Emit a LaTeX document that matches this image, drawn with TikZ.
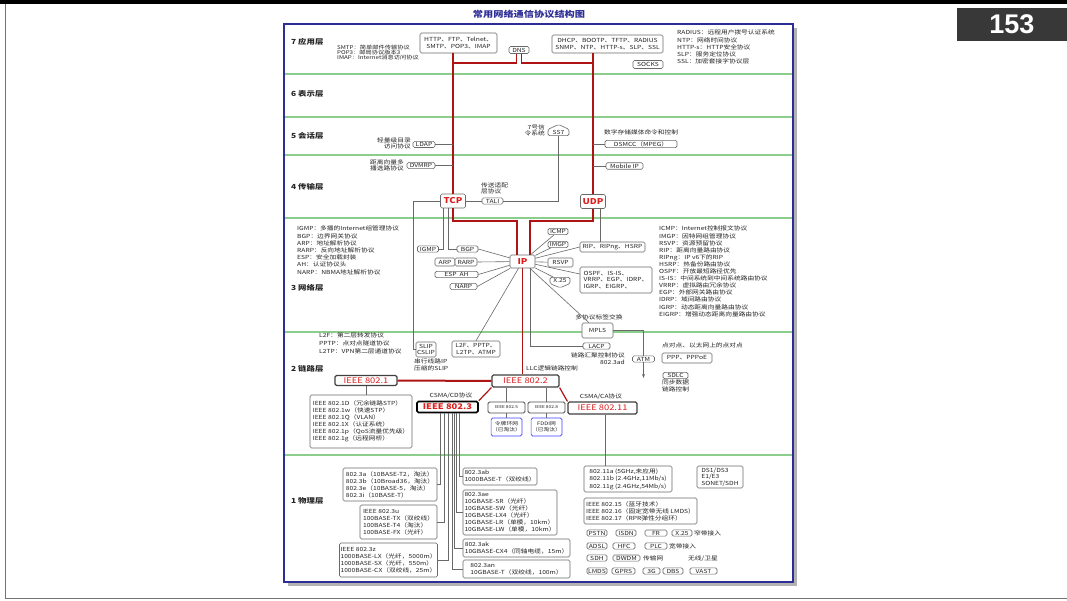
\documentclass[tikz,border=0pt]{standalone}
\usepackage{fontspec}
\setmainfont{Noto Sans CJK SC}[FakeStretch=1.2]
\newfontfamily\numfont{Liberation Sans}
\usepackage{xcolor}
\usepackage{tikz}
\usetikzlibrary{arrows.meta,shapes.symbols}

\definecolor{frameblue}{RGB}{45,45,150}
\definecolor{sepgreen}{RGB}{140,205,140}
\definecolor{linered}{RGB}{175,20,20}
\definecolor{textred}{RGB}{220,30,30}
\definecolor{boxgray}{RGB}{105,105,105}
\definecolor{txtgray}{RGB}{35,35,35}

\newcommand\sm{\fontsize{5.6}{6.6}\selectfont}

\begin{document}
\begin{tikzpicture}[x=1pt,y=-1pt,
  font=\sm,text=txtgray,
  b/.style={draw=boxgray,rounded corners=1.5pt,fill=white,inner sep=1pt,
            line width=0.6pt,align=center},
  bt/.style={b,align=left,font=\fontsize{5.6}{7}\selectfont},
  tx/.style={inner sep=0pt,align=left},
  k/.style={b,font=\fontsize{8}{8}\selectfont\bfseries,text=textred},
  ie/.style={b,draw=black!75,line width=1.1pt,inner sep=0.5pt,font=\fontsize{7.8}{8}\selectfont,text=textred},
  bl/.style={b,draw=blue!75,line width=0.7pt,font=\fontsize{4.8}{5.8}\selectfont},
  l/.style={draw=boxgray,line width=0.6pt},
  rl/.style={draw=linered,line width=1.8pt},
  lay/.style={anchor=west,inner sep=0pt,font=\fontsize{7}{7}\selectfont\bfseries,text=black!85}]

\useasboundingbox (0,0) rectangle (1067,601);

% page
\fill[black] (0,0) rectangle (1067,4.5);
\draw[black!55,line width=0.8pt] (5,4.5) -- (5,598.5) -- (1067,598.5);
\node[fill=black!78,text=white,minimum width=110pt,minimum height=33pt,inner sep=0pt,
      anchor=north east,font=\numfont\fontsize{27}{27}\selectfont\bfseries] (page) at (1067,8) {153};

% frame and layers
\fill[black!30] (288,28) rectangle (797,586);
\draw[frameblue,line width=2pt,fill=white] (284,24) rectangle (793,582);
\node[font=\fontsize{8.5}{9}\selectfont\bfseries,text=frameblue] (title) at (529,14) {常用网络通信协议结构图};
\foreach \y in {74,117,155,218,332,455}
  \draw[sepgreen,line width=1.2pt] (285,\y) -- (792,\y);
\node[lay] (lay7) at (291,42) {7 应用层};
\node[lay] (lay6) at (291,94) {6 表示层};
\node[lay] (lay5) at (291,136) {5 会话层};
\node[lay] (lay4) at (291,187) {4 传输层};
\node[lay] (lay3) at (291,288) {3 网络层};
\node[lay] (lay2) at (291,369) {2 链路层};
\node[lay] (lay1) at (291,501) {1 物理层};

% application layer
\node[tx,anchor=west,font=\fontsize{5.2}{5.4}\selectfont] (apptxt) at (337,52.5) {SMTP：简单邮件传输协议\\POP3：邮局协议版本3\\IMAP：Internet消息访问协议};
\node[b,minimum width=77pt,minimum height=20pt] (http) at (458.5,43) {HTTP、FTP、Telnet、\\SMTP、POP3、IMAP};
\node[b,minimum width=20pt,minimum height=7pt] (dns) at (519,50) {DNS};
\node[b,minimum width=111pt,minimum height=18pt] (dhcp) at (607.5,44) {DHCP、BOOTP、TFTP、RADIUS\\SNMP、NTP、HTTP-s、SLP、SSL};
\node[b,minimum width=30pt,minimum height=8pt] (socks) at (648,64.5) {SOCKS};
\node[tx,anchor=north west,font=\fontsize{5.6}{7.2}\selectfont] (apptxt2) at (677,30) {RADIUS：远程用户拨号认证系统\\NTP：网络时间协议\\HTTP-s：HTTP安全协议\\SLP：服务定位协议\\SSL：加密套接字协议层};
\coordinate (jl) at (453,63);
\coordinate (jr) at (593,63);

% session layer
\node[tx,anchor=east,align=right] (ldaptxt) at (411,143.5) {轻量级目录\\访问协议};
\node[b,minimum width=22pt] (ldap) at (424,144.5) {LDAP};
\node[b,signal,signal to=north,signal from=nowhere,signal pointer angle=130,minimum width=21pt] (ss7) at (558.5,132.5) {SS7};
\node[tx,anchor=east,align=right] (ss7txt) at (545,130.5) {7号信\\令系统};
\node[tx,anchor=west] (dsmcctxt) at (604,132) {数字存储媒体命令和控制};
\node[b,minimum width=72pt] (dsmcc) at (641,144) {DSMCC（MPEG）};

% transport layer
\node[tx,anchor=east,align=right] (dvmrptxt) at (404,165.5) {距离向量多\\播选路协议};
\node[b,minimum width=28pt] (dvmrp) at (421,165.5) {DVMRP};
\node[b,minimum width=37pt] (mip) at (624.5,166) {Mobile IP};
\node[k,minimum width=25pt,minimum height=14pt] (tcp) at (453,201) {TCP};
\node[k,minimum width=25pt,minimum height=14pt] (udp) at (593,201.5) {UDP};
\node[tx,anchor=west] (talitxt) at (481,188.5) {传送适配\\层协议};
\node[b,minimum width=21pt] (tali) at (492.5,201) {TALI};

% network layer
\node[tx,anchor=north west,font=\fontsize{5.6}{7.2}\selectfont] (nettxt) at (297,226) {IGMP：多播的Internet组管理协议\\BGP：边界网关协议\\ARP：地址解析协议\\RARP：反向地址解析协议\\ESP：安全加载封装\\AH：认证协议头\\NARP：NBMA地址解析协议};
\node[tx,anchor=north west,font=\fontsize{5.6}{7.1}\selectfont] (nettxt2) at (659,226) {ICMP：Internet控制报文协议\\IMGP：因特网组管理协议\\RSVP：资源预留协议\\RIP：距离向量路由协议\\RIPng：IP v6下的RIP\\HSRP：热备份路由协议\\OSPF：开放最短路径优先\\IS-IS：中间系统到中间系统路由协议\\VRRP：虚拟路由冗余协议\\EGP：外部网关路由协议\\IDRP：域间路由协议\\IGRP：动态距离向量路由协议\\EIGRP：增强动态距离向量路由协议};
\node[k,minimum width=25pt,minimum height=13pt] (ip) at (522.5,261.5) {IP};
\node[b,minimum width=21pt] (igmp) at (428,249) {IGMP};
\node[b,minimum width=21pt] (bgp) at (467.5,249) {BGP};
\node[b,minimum width=20pt,minimum height=8pt] (arp) at (445,262) {ARP};
\node[b,minimum width=22pt,minimum height=8pt] (rarp) at (466,262) {RARP};
\node[b,minimum width=43pt] (esp) at (456.5,274.5) {ESP\ \ AH};
\node[b,minimum width=27pt] (narp) at (463.5,286.5) {NARP};
\node[b,minimum width=20pt] (icmp) at (558,231.5) {ICMP};
\node[b,minimum width=20pt] (imgp) at (558,244.5) {IMGP};
\node[b,minimum width=65pt,minimum height=10pt] (rip) at (612.5,247) {RIP、RIPng、HSRP};
\node[b,minimum width=25pt,minimum height=9pt] (rsvp) at (560.5,262.5) {RSVP};
\node[b,align=left,minimum width=72pt,minimum height=26pt] (ospf) at (616,280) {OSPF、IS-IS、\\VRRP、EGP、IDRP、\\IGRP、EIGRP、};
\node[b,signal,signal to=south,signal from=nowhere,signal pointer angle=135,minimum width=20pt] (x25) at (560,280.5) {X.25};
\node[tx] (mplstxt) at (599,317) {多协议标签交换};
\node[b,minimum width=31pt,minimum height=15pt] (mpls) at (597.5,330.5) {MPLS};

% data link layer
\node[tx,anchor=north west,font=\fontsize{5.6}{7.7}\selectfont] (l2txt) at (319,333) {L2F：第二层转发协议\\PPTP：点对点隧道协议\\L2TP：VPN第二层通道协议};
\node[b,minimum width=18pt,minimum height=15pt] (slip) at (426,349.5) {SLIP\\CSLIP};
\node[tx,anchor=north west] (sliptxt) at (414,358.5) {串行线路IP\\压缩的SLIP};
\node[b,minimum width=48pt,minimum height=16pt] (l2f) at (476,349) {L2F、PPTP、\\L2TP、ATMP};
\node[b,minimum width=27pt] (lacp) at (596.5,346) {LACP};
\node[tx,anchor=north east,align=right] (lacptxt) at (625,352.5) {链路汇聚控制协议\\802.3ad};
\node[b,minimum width=22pt] (atm) at (643.5,359) {ATM};
\coordinate (atmend) at (643.5,378);
\node[tx,anchor=west] (ppptxt) at (662,345) {点对点、以太网上的点对点};
\node[b,minimum width=50pt,minimum height=10pt] (ppp) at (687,358) {PPP、PPPoE};
\node[b,minimum width=25pt] (sdlc) at (675.5,375.5) {SDLC};
\node[tx,anchor=north west] (sdlctxt) at (662,380) {同步数据\\链路控制};
\node[ie,minimum width=62pt,minimum height=10pt] (e1) at (366,380.5) {IEEE 802.1};
\node[tx,anchor=west] (llctxt) at (526,368.5) {LLC逻辑链路控制};
\node[ie,minimum width=67pt,minimum height=12pt] (e2) at (525.5,381) {IEEE 802.2};
\node[bt,minimum width=102pt,minimum height=53pt] (d1) at (361,421.5) {IEEE 802.1D（冗余链路STP）\\IEEE 802.1w（快速STP）\\IEEE 802.1Q（VLAN）\\IEEE 802.1X（认证系统）\\IEEE 802.1p（QoS流量优先级）\\IEEE 802.1g（远程网桥）};
\node[tx] (cdtxt) at (451,396) {CSMA/CD协议};
\node[ie,draw=black,line width=1.6pt,font=\fontsize{7.8}{8}\selectfont\bfseries,minimum width=61pt,minimum height=11pt] (e3) at (447.5,407) {IEEE 802.3};
\node[b,draw=black!70,line width=0.9pt,font=\fontsize{4}{4}\selectfont,minimum width=37pt,minimum height=11pt] (e5) at (506.5,407.5) {IEEE 802.5};
\node[b,draw=black!70,line width=0.9pt,font=\fontsize{4}{4}\selectfont,minimum width=37pt,minimum height=11pt] (e8) at (546.5,407.5) {IEEE 802.8};
\node[tx] (catxt) at (601,397) {CSMA/CA协议};
\node[ie,minimum width=69pt,minimum height=12pt] (e11) at (602.5,408) {IEEE 802.11};
\node[bl,minimum width=30pt,minimum height=18pt] (tring) at (506.5,427) {令牌环网\\（已淘汰）};
\node[bl,minimum width=30pt,minimum height=18pt] (fddi) at (546.5,427) {FDDI网\\（已淘汰）};

% physical layer
\node[bt,minimum width=94pt,minimum height=33pt] (p3a) at (390,484.5) {802.3a（10BASE-T2，淘汰）\\802.3b（10Broad36，淘汰）\\802.3e（10BASE-5，淘汰）\\802.3i（10BASE-T）};
\node[bt,minimum width=77pt,minimum height=34pt] (p3u) at (398.5,522) {IEEE 802.3u\\100BASE-TX（双绞线）\\100BASE-T4（淘汰）\\100BASE-FX（光纤）};
\node[bt,minimum width=97pt,minimum height=34pt] (p3z) at (388.5,560) {IEEE 802.3z\\1000BASE-LX（光纤，5000m）\\1000BASE-SX（光纤，550m）\\1000BASE-CX（双绞线，25m）};
\node[bt,minimum width=74pt,minimum height=17pt] (p3ab) at (500,476.5) {802.3ab\\1000BASE-T（双绞线）};
\node[bt,minimum width=94pt,minimum height=45pt] (p3ae) at (510,512.5) {802.3ae\\10GBASE-SR（光纤）\\10GBASE-SW（光纤）\\10GBASE-LX4（光纤）\\10GBASE-LR（单模，10km）\\10GBASE-LW（单模，10km）};
\node[bt,minimum width=107pt,minimum height=18pt] (p3ak) at (516.5,548) {802.3ak\\10GBASE-CX4（同轴电缆，15m）};
\node[bt,minimum width=107pt,minimum height=18pt] (p3an) at (516.5,569) {802.3an\\10GBASE-T（双绞线，100m）};
\node[bt,minimum width=88pt,minimum height=26pt,font=\fontsize{5.6}{7.5}\selectfont] (a11) at (628,479) {802.11a (5GHz,未应用)\\802.11b (2.4GHz,11Mb/s)\\802.11g (2.4GHz,54Mb/s)};
\node[bt,minimum width=46pt,minimum height=22pt,font=\fontsize{5.6}{6.5}\selectfont] (ds) at (720,477) {DS1/DS3\\E1/E3\\SONET/SDH};
\node[bt,minimum width=113pt,minimum height=26pt] (w15) at (640.5,511) {IEEE 802.15（蓝牙技术）\\IEEE 802.16（固定宽带无线 LMDS）\\IEEE 802.17（RPR弹性分组环）};
\foreach \n/\x/\w/\s in {pstn/597/20/PSTN,isdn/626/20/ISDN,fr/656/22/FR,xn/682/20/X.25}
  \node[b,minimum width=\w pt] (\n) at (\x,533) {\s};
\foreach \n/\x/\w/\s in {adsl/597/20/ADSL,hfc/624/22/HFC,plc/656/22/PLC}
  \node[b,minimum width=\w pt] (\n) at (\x,546) {\s};
\foreach \n/\x/\w/\s in {sdh/597/20/SDH,dwdm/626.5/27/DWDM}
  \node[b,minimum width=\w pt] (\n) at (\x,558) {\s};
\foreach \n/\x/\w/\s in {lmds/597/20/LMDS,gprs/623.5/23/GPRS,g3/651.5/17/3G,dbs/673/20/DBS,vast/703.5/27/VAST}
  \node[b,minimum width=\w pt] (\n) at (\x,571) {\s};
\node[tx,anchor=west] (nbtxt) at (694,533) {窄带接入};
\node[tx,anchor=west] (bbtxt) at (669,546) {宽带接入};
\node[tx,anchor=west] (tntxt) at (643,558) {传输网};
\node[tx,anchor=west] (wltxt) at (688,559) {无线/卫星};

% red trunk
\draw[rl] (tcp) -- (tcp |- http.south);
\draw[rl] (udp) -- (udp |- dhcp.south);
\draw[rl] ([xshift=-2.5pt]dns.south) |- (jl);
\draw[rl] ([xshift=2.5pt]dns.south) |- (jr);
\draw[rl] (tcp.south) -- ++(0,13) -| ([xshift=-5.5pt]ip.north);
\draw[rl] (udp.south) -- ++(0,12) -| ([xshift=7.5pt]ip.north);
\draw[rl] (ip) -- (ip |- e2.north);
\draw[rl,line width=2pt] (e1) -- (e2);
\draw[rl,line width=1.2pt] (e2.south west) -- (e3.north east);
\draw[rl,line width=1.2pt] (e2.south east) -- (e11.north west);

% grey links
\draw[l] (ldap) -- (ldap -| tcp);
\draw[l] (dvmrp) -- (dvmrp -| tcp);
\draw[l] (dsmcc) -- (dsmcc -| udp);
\draw[l] (mip) -- (mip -| udp);
\draw[l] (tcp.east |- tali) -- (tali);
\draw[l] (tali) -| (ss7.south);
\draw[l] (tcp.west) -- ++(-27,0) |- (slip);
\draw[l] ([xshift=-10pt]tcp.south) |- (igmp);
\draw[l] ([xshift=-5pt]tcp.south) |- (bgp);
\draw[l] ([xshift=7pt]udp.south) -- ([xshift=7pt]udp.south |- rip.north);
\foreach \n in {bgp,rarp,esp,narp} { \draw[l] (\n.east) -- (ip); }
\foreach \n in {icmp,imgp,rsvp,x25,mpls} { \draw[l] (ip) -- (\n); }
\draw[l] (ip) -- (rip.west);
\draw[l] (ip) -- ([yshift=6pt]ospf.west);
\draw[l] (ip) -- (l2f.north);
\draw[l] ([xshift=7.5pt]ip.south) |- (lacp);
\draw[l] (mpls.east) -| (atm);
\draw[l,-{Stealth[length=4pt,width=3pt]}] (atm) -- (atmend);
\draw[l,line width=1pt] (e1) -- (e1 |- d1.north);
\draw[l] (e5) -- (e5 |- e2.south);
\draw[l] (e8) -- (e8 |- e2.south);
\draw[l] (e5) -- (tring);
\draw[l] (e8) -- (fddi);
\draw[l] ([xshift=2.5pt]e11.south) -- ([xshift=2.5pt]e11.south |- a11.north);
\foreach \dx/\n in {-7.5/p3a,-3.5/p3u,0.5/p3z} { \draw[l] ([xshift=\dx pt]e3.south) |- (\n); }
\foreach \dx/\n in {11.5/p3ab,9/p3ae,7/p3ak,5/p3an} { \draw[l] ([xshift=\dx pt]e3.south) |- (\n); }
\end{tikzpicture}
\end{document}
